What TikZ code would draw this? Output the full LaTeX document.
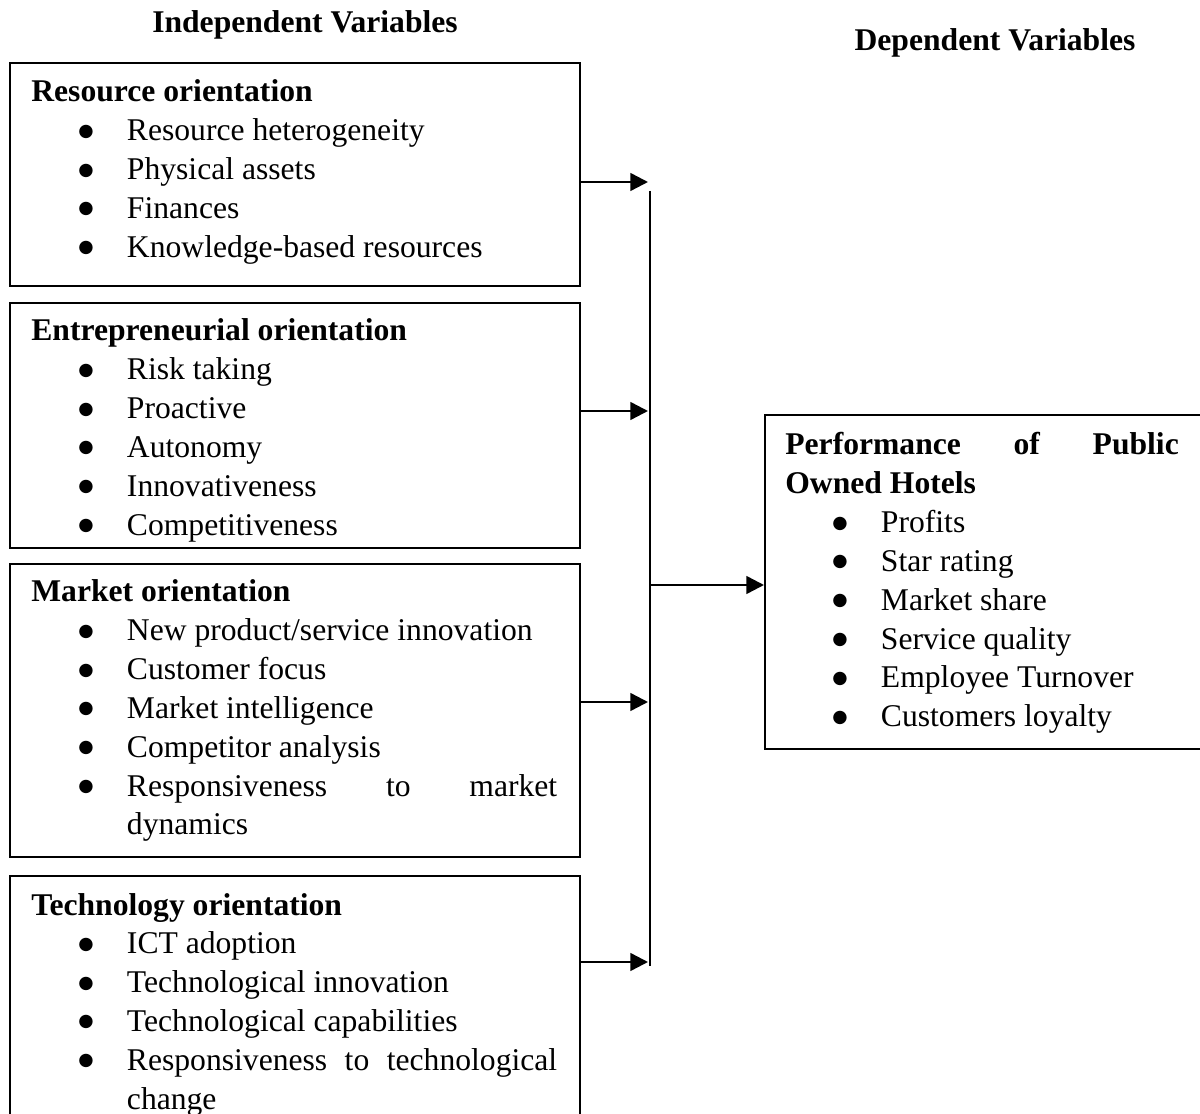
\documentclass[tikz,border=0pt]{standalone}
\usepackage{fontspec}
\setmainfont{Liberation Serif}
\newfontfamily\dotfont{DejaVu Sans}
\usetikzlibrary{arrows.meta,positioning}

\newlength\pxu
\setlength\pxu{0.5669pt}
\newcommand{\bitem}{\par\hspace*{55\pxu}\makebox[0pt]{\raisebox{2.6pt}{\dotfont\fontsize{10}{12}\selectfont ●}}\hspace*{41\pxu}}

\tikzset{
  ivbox/.style={draw, line width=1.1pt, inner sep=0pt, anchor=north west},
  ivtext/.style={inner sep=0pt, anchor=base west, align=left,
    font=\fontsize{18}{22.1}\selectfont},
  heading/.style={inner sep=0pt, anchor=base, font=\fontsize{18}{22.1}\selectfont\bfseries},
  link/.style={line width=1.4pt, -{Triangle[length=10pt,width=10pt]}}
}

\begin{document}
\begin{tikzpicture}[x=0.02cm, y=-0.02cm]
    \useasboundingbox (0,0) rectangle (1200,1114);
    \clip (0,0) rectangle (1200,1114);

    % Headings
    \node[heading] (indep) at (305,33) {Independent Variables};
    \node[heading] (dep) at (995,51) {Dependent Variables};

    % Boxes
    \node[ivbox, minimum width=11.4cm, minimum height=4.46cm] (ro) at (9,62) {};
    \node[ivbox, minimum width=11.4cm, minimum height=4.9cm] (eo) at (9,302) {};
    \node[ivbox, minimum width=11.4cm, minimum height=5.86cm] (mo) at (9,563) {};
    \node[ivbox, minimum width=11.4cm, minimum height=5.4cm] (to) at (9,875) {};
    \node[ivbox, minimum width=9.2cm, minimum height=6.68cm] (perf) at (764,414) {};

    % Resource orientation
    \begin{scope}
      \clip (ro.north west) rectangle (ro.south east);
      \node[ivtext] (rotext) at (31,102) {\begin{minipage}[t]{540\pxu}\parindent=0pt
        \textbf{Resource orientation}
        \bitem Resource heterogeneity
        \bitem Physical assets
        \bitem Finances
        \bitem Knowledge-based resources
      \end{minipage}};
    \end{scope}

    % Entrepreneurial orientation
    \begin{scope}
      \clip (eo.north west) rectangle (eo.south east);
      \node[ivtext] (eotext) at (31,341) {\begin{minipage}[t]{540\pxu}\parindent=0pt
        \textbf{Entrepreneurial orientation}
        \bitem Risk taking
        \bitem Proactive
        \bitem Autonomy
        \bitem Innovativeness
        \bitem Competitiveness
      \end{minipage}};
    \end{scope}

    % Market orientation
    \begin{scope}
      \clip (mo.north west) rectangle (mo.south east);
      \node[ivtext] (motext) at (31,602) {\begin{minipage}[t]{540\pxu}\parindent=0pt
        \textbf{Market orientation}
        \bitem New product/service innovation
        \bitem Customer focus
        \bitem Market intelligence
        \bitem Competitor analysis
        \bitem \makebox[432\pxu][s]{Responsiveness\hfill to\hfill market}
        \par\hspace*{96\pxu}dynamics
      \end{minipage}};
    \end{scope}

    % Technology orientation
    \begin{scope}
      \clip (to.north west) rectangle (to.south east);
      \node[ivtext] (totext) at (31,915) {\begin{minipage}[t]{540\pxu}\parindent=0pt
        \textbf{Technology orientation}
        \bitem ICT adoption
        \bitem Technological innovation
        \bitem Technological capabilities
        \bitem \makebox[432\pxu][s]{Responsiveness\hfill to\hfill technological}
        \par\hspace*{96\pxu}change
      \end{minipage}};
    \end{scope}

    % Performance
    \node[ivtext] (perftext) at (785,455) {\begin{minipage}[t]{400\pxu}\parindent=0pt
        \makebox[395\pxu][s]{\textbf{Performance}\hfill\textbf{of}\hfill\textbf{Public}}
        \par\textbf{Owned Hotels}
        \bitem Profits
        \bitem Star rating
        \bitem Market share
        \bitem Service quality
        \bitem Employee Turnover
        \bitem Customers loyalty
      \end{minipage}};

    % Bus line and arrows
    \coordinate (b1) at (648,182);
    \coordinate (b2) at (648,411);
    \coordinate (b3) at (648,702);
    \coordinate (b4) at (648,962);
    \coordinate (bustop) at (650,191);
    \coordinate (busbot) at (650,966);
    \coordinate (busmid) at (650,585);

    \draw[line width=1.4pt] (bustop) -- (busbot);
    \draw[link] (ro.east |- b1) -- (b1);
    \draw[link] (eo.east |- b2) -- (b2);
    \draw[link] (mo.east |- b3) -- (b3);
    \draw[link] (to.east |- b4) -- (b4);
    \draw[link] (busmid) -- (perf.west |- busmid);

\end{tikzpicture}
\end{document}
